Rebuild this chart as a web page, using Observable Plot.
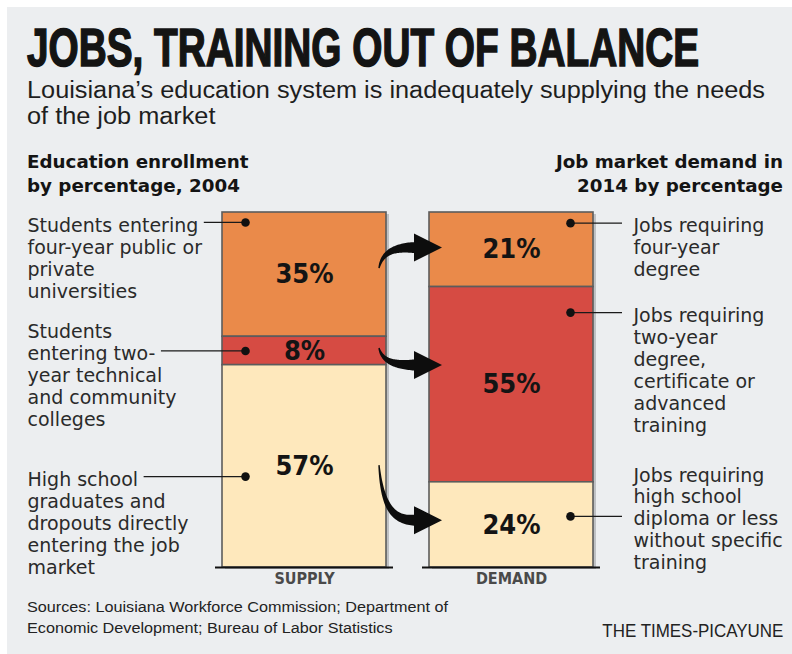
<!DOCTYPE html>
<html><head><meta charset="utf-8">
<script src="https://cdn.jsdelivr.net/npm/d3@7"></script>
<script src="https://cdn.jsdelivr.net/npm/@observablehq/plot@0.6"></script>
<style>
html,body{margin:0;padding:0;background:#fff;}
#panel{position:absolute;left:7px;top:7px;width:785px;height:647px;background:#eceef0;overflow:hidden;}
.abs{position:absolute;white-space:nowrap;color:#141414;}
#title{left:20px;top:15.8px;font-family:"Liberation Sans";font-weight:bold;font-size:54px;line-height:48px;transform-origin:left top;-webkit-text-stroke:1.6px #141414;}
#sub{left:20px;top:70.4px;font-family:"Liberation Sans";font-size:23.5px;line-height:26px;color:#1e1e1e;transform-origin:left top;}
.head{font-family:"DejaVu Sans";font-weight:bold;font-size:18.3px;line-height:24px;top:143px;}
#hl{left:20px;}
#hr{right:9px;text-align:right;}
#chart{left:0;top:133px;}
#src{left:20px;top:589px;font-family:"Liberation Sans";font-size:15.5px;line-height:21px;color:#222;transform-origin:left top;}
#brand{right:9px;top:614px;font-family:"Liberation Sans";font-size:18px;line-height:20px;color:#222;transform-origin:right top;}
</style></head>
<body>
<div id="panel">
  <div id="title" class="abs">JOBS, TRAINING OUT OF BALANCE</div>
  <div id="sub" class="abs">Louisiana’s education system is inadequately supplying the needs<br>of the job market</div>
  <div id="hl" class="abs head">Education enrollment<br>by percentage, 2004</div>
  <div id="hr" class="abs head">Job market demand in<br>2014 by percentage</div>
  <div id="chart" class="abs"></div>
  <div id="src" class="abs">Sources: Louisiana Workforce Commission; Department of<br>Economic Development; Bureau of Labor Statistics</div>
  <div id="brand" class="abs">THE TIMES-PICAYUNE</div>
</div>
<script>
// ---- data ----
const bars = ["SUPPLY", "DEMAND"];
const levels = ["four-year", "two-year", "high school"];
const levelColors = ["#EA8A4A", "#D64B43", "#FEE8BC"];
const supplyValues = [35, 8, 57];
const demandValues = [21, 55, 24];

const supplyLabels = [
  "Students entering\nfour-year public or\nprivate\nuniversities",
  "Students\nentering two-\nyear technical\nand community\ncolleges",
  "High school\ngraduates and\ndropouts directly\nentering the job\nmarket"
];
const demandLabels = [
  "Jobs requiring\nfour-year\ndegree",
  "Jobs requiring\ntwo-year\ndegree,\ncertificate or\nadvanced\ntraining",
  "Jobs requiring\nhigh school\ndiploma or less\nwithout specific\ntraining"
];
// callout anchor (percent from top of bar) and the label line the leader attaches to
const supplyCalloutAt = [2.8, 39, 74.4];
const supplyCalloutLine = [0, 1, 0];
const demandCalloutAt = [3, 28.2, 85.6];
const demandCalloutLine = [0, 0, 2];
// flow arrows: leave supply at / arrive demand at (percent from top)
const flowFrom = [15.8, 38.3, 71.3];
const flowTo = [10.0, 43.1, 86.8];

// ---- text fitting (condensed newspaper type) ----
function fitWidth(id, target) {
  const el = document.getElementById(id);
  const w = el.getBoundingClientRect().width;
  el.style.transform = `scaleX(${target / w})`;
}
fitWidth("title", 672);
fitWidth("sub", 738);
fitWidth("src", 421);
fitWidth("brand", 181);

// ---- layout ----
const W = 785, H = 460, mTop = 72, mBottom = 33, mLeft = 214, mRight = 199;
const pxPerPct = (H - mTop - mBottom) / 100;
const labelFont = 19, labelLH = 22;

function stackRows(bar, values) {
  let acc = 0;
  return values.map((v, i) => {
    const r = {bar, level: levels[i], value: v, y1: acc, y2: acc + v, mid: acc + v / 2};
    acc += v;
    return r;
  });
}
const rows = [...stackRows(bars[0], supplyValues), ...stackRows(bars[1], demandValues)];

function calloutRows(labels, at, line) {
  return labels.map((t, i) => ({
    text: t, dot: at[i], line: line[i],
    ty: at[i] - (6.5 + labelLH * line[i]) / pxPerPct,
    lineText: t.split("\n")[line[i]]
  }));
}
const leftRows = calloutRows(supplyLabels, supplyCalloutAt, supplyCalloutLine);
const rightRows = calloutRows(demandLabels, demandCalloutAt, demandCalloutLine);

const ctx = document.createElement("canvas").getContext("2d");
ctx.font = `${labelFont}px "DejaVu Sans"`;

const labelLeftX = 20, labelRightX = W - mRight + 40;
const dotInset = 23;
const frameW = W - mRight - mLeft;

const leaderMarks = [];
leftRows.forEach(r => {
  const start = labelLeftX + ctx.measureText(r.lineText).width + 6;
  leaderMarks.push(Plot.ruleY([r], {y: "dot", insetLeft: start - mLeft, insetRight: frameW - dotInset, stroke: "#1a1a1a", strokeWidth: 1.3}));
});
rightRows.forEach(r => {
  const end = labelRightX - 11;
  leaderMarks.push(Plot.ruleY([r], {y: "dot", insetLeft: frameW - dotInset, insetRight: (W - mRight) - end, stroke: "#1a1a1a", strokeWidth: 1.3}));
});

function flowArrows(index, scales) {
  const X = scales.x, Y = scales.y;
  const fx = typeof X === "function" ? X : X.apply;
  const fy = typeof Y === "function" ? Y : Y.apply;
  const bw = typeof X.bandwidth === "function" ? X.bandwidth() : X.bandwidth;
  const sRight = fx(bars[0]) + bw, dLeft = fx(bars[1]);
  const g = d3.create("svg:g").attr("fill", "#0d0d0d");
  flowFrom.forEach((f, i) => {
    const p0 = [sRight - 7, fy(f)];
    const base = [dLeft - 15, fy(flowTo[i])];
    const tip = [dLeft + 13, fy(flowTo[i])];
    const dx = base[0] - p0[0], dy = base[1] - p0[1];
    const p1 = [p0[0] + 0.1 * dx, p0[1] + 0.8 * dy];
    const p2 = [base[0] - 0.55 * dx, base[1]];
    const N = 40, L = [], R = [];
    for (let k = 0; k <= N; k++) {
      const t = k / N, u = 1 - t;
      const px = u*u*u*p0[0] + 3*u*u*t*p1[0] + 3*u*t*t*p2[0] + t*t*t*base[0];
      const py = u*u*u*p0[1] + 3*u*u*t*p1[1] + 3*u*t*t*p2[1] + t*t*t*base[1];
      const tx = 3*u*u*(p1[0]-p0[0]) + 6*u*t*(p2[0]-p1[0]) + 3*t*t*(base[0]-p2[0]);
      const ty = 3*u*u*(p1[1]-p0[1]) + 6*u*t*(p2[1]-p1[1]) + 3*t*t*(base[1]-p2[1]);
      const len = Math.hypot(tx, ty) || 1;
      const nx = -ty / len, ny = tx / len;
      const w = 0.7 + 4.8 * t;
      L.push([px + nx * w, py + ny * w]);
      R.push([px - nx * w, py - ny * w]);
    }
    const d = "M" + L.map(p => p.join(",")).join("L") + "L" + R.reverse().map(p => p.join(",")).join("L") + "Z"
      + `M${base[0]},${base[1] - 14}L${tip[0]},${tip[1]}L${base[0]},${base[1] + 14}Z`;
    g.append("path").attr("d", d);
  });
  return g.node();
}

const chart = Plot.plot({
  width: W, height: H,
  marginTop: mTop, marginBottom: mBottom, marginLeft: mLeft, marginRight: mRight,
  style: {background: "transparent", overflow: "visible"},
  x: {domain: bars, paddingInner: 0.21, paddingOuter: 0, axis: null},
  y: {domain: [0, 100], reverse: true, axis: null},
  color: {domain: levels, range: levelColors},
  marks: [
    Plot.barY(bars, {x: d => d, y1: () => 0, y2: () => 100, fill: "#9a9ca0", fillOpacity: 0.55, dx: 3, dy: 2}),
    Plot.barY(rows, {x: "bar", y1: "y1", y2: "y2", fill: "level", stroke: "#5c5c5c", strokeWidth: 1.6}),
    Plot.tickY(bars, {x: d => d, y: () => 100, stroke: "#111", strokeWidth: 2, insetLeft: -7, insetRight: -7}),
    Plot.text(rows, {x: "bar", y: "mid", text: d => d.value + "%", fontFamily: "DejaVu Sans Condensed", fontWeight: "bold", fontSize: 27, fill: "#141414"}),
    Plot.text(bars, {x: d => d, text: d => d, frameAnchor: "bottom", dy: 16, fontFamily: "DejaVu Sans Condensed", fontWeight: "bold", fontSize: 16, fill: "#4a4a4a"}),
    ...leaderMarks,
    Plot.dot(leftRows, {x: () => bars[0], y: "dot", dx: -(82 - dotInset), r: 4.3, fill: "#111", stroke: "none"}),
    Plot.dot(rightRows, {x: () => bars[1], y: "dot", dx: (82 - dotInset), r: 4.3, fill: "#111", stroke: "none"}),
    Plot.text(leftRows, {y: "ty", text: "text", frameAnchor: "left", dx: labelLeftX - mLeft, textAnchor: "start", lineAnchor: "top", lineHeight: labelLH / labelFont, fontFamily: "DejaVu Sans", fontSize: labelFont, fill: "#2a2a2a"}),
    Plot.text(rightRows, {y: "ty", text: "text", frameAnchor: "right", dx: 40, textAnchor: "start", lineAnchor: "top", lineHeight: labelLH / labelFont, fontFamily: "DejaVu Sans", fontSize: labelFont, fill: "#2a2a2a"}),
    flowArrows
  ]
});
document.getElementById("chart").appendChild(chart);
</script>
</body></html>
